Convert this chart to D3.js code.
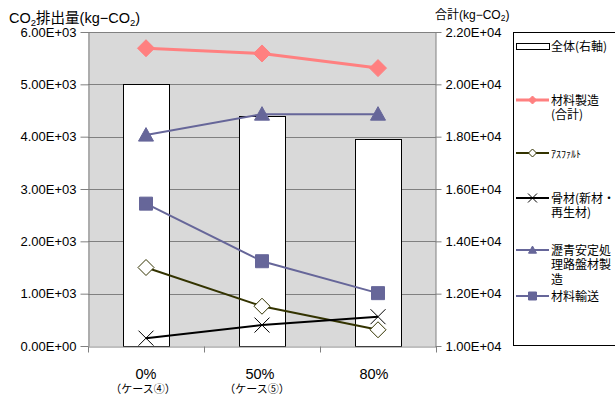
<!DOCTYPE html>
<html>
<head>
<meta charset="utf-8">
<script src="https://cdn.jsdelivr.net/npm/d3@7"></script>
<style>
  html, body { margin: 0; padding: 0; background: #fff; }
  svg { display: block; }
  .num { font-family: "Liberation Sans", Arial, sans-serif; }
  .jp { font-family: "Noto Sans CJK JP", sans-serif; }
</style>
</head>
<body>
<svg id="chart" width="615" height="396"></svg>
<script>
// Categories (recycled-material ratio) and their sub-labels
const categories = ["0%", "50%", "80%"];
const caseLabels = ["（ケース④）", "（ケース⑤）", ""];

// Total emissions, drawn as bars on the right axis (kg-CO2)
const totalValues = [20000, 18800, 17900];

// Line series on the left axis (kg-CO2)
const materialTotal = [5690, 5590, 5310];   // 材料製造(合計)
const asphalt = [1500, 760, 310];            // アスファルト
const aggregate = [150, 400, 560];           // 骨材(新材・再生材)
const bitumenBase = [4030, 4430, 4430];      // 瀝青安定処理路盤材製造
const transport = [2720, 1620, 1010];        // 材料輸送

const leftTicks = [0, 1000, 2000, 3000, 4000, 5000, 6000];
const rightTicks = [10000, 12000, 14000, 16000, 18000, 20000, 22000];

const series = [
  { name: ["材料製造", "(合計)"], values: materialTotal, color: "#ff8080", width: 3, marker: "diamond", fill: "#ff8080", size: 17 },
  { name: ["ｱｽﾌｧﾙﾄ"], values: asphalt, color: "#333300", width: 2, marker: "diamond", fill: "#fff", size: 16, half: true },
  { name: ["骨材(新材・", "再生材)"], values: aggregate, color: "#000000", width: 2, marker: "x", fill: "none", size: 15 },
  { name: ["瀝青安定処", "理路盤材製", "造"], values: bitumenBase, color: "#666699", width: 2, marker: "triangle", fill: "#666699", size: 15 },
  { name: ["材料輸送"], values: transport, color: "#666699", width: 2, marker: "square", fill: "#666699", size: 13 }
];

const svg = d3.select("#chart");
const plot = { left: 88, right: 436, top: 32, bottom: 346 };

const x = d3.scaleBand().domain(categories).range([plot.left, plot.right]).padding(0);
const xb = d3.scaleLinear().domain([0, categories.length]).range([plot.left, plot.right]);
const yL = d3.scaleLinear().domain([0, 6000]).range([plot.bottom, plot.top]);
const yR = d3.scaleLinear().domain([10000, 22000]).range([plot.bottom, plot.top]);

function fmtE(v) {
  if (v === 0) return "0.00E+00";
  const e = Math.floor(Math.log10(Math.abs(v)));
  const m = v / Math.pow(10, e);
  return m.toFixed(2) + "E" + (e >= 0 ? "+" : "-") + String(Math.abs(e)).padStart(2, "0");
}

// Plot background
svg.append("rect")
  .attr("x", plot.left).attr("y", plot.top)
  .attr("width", plot.right - plot.left).attr("height", plot.bottom - plot.top)
  .attr("fill", "#d9d9d9");

// Horizontal gridlines
svg.append("g").selectAll("line").data(leftTicks.slice(1)).join("line")
  .attr("x1", plot.left).attr("x2", plot.right)
  .attr("y1", d => Math.round(yL(d)) + 0.5).attr("y2", d => Math.round(yL(d)) + 0.5)
  .attr("stroke", "#808080").attr("stroke-width", 1);

// Bars: overall total (right axis)
const bw = x.bandwidth() * 0.4;
svg.append("g").selectAll("rect").data(categories).join("rect")
  .attr("x", (c) => Math.round(x(c) + (x.bandwidth() - bw) / 2) + 0.5)
  .attr("y", (c, i) => Math.round(yR(totalValues[i])) + 0.5)
  .attr("width", Math.round(bw))
  .attr("height", (c, i) => plot.bottom - Math.round(yR(totalValues[i])))
  .attr("fill", "#fff").attr("stroke", "#000").attr("stroke-width", 1);

// Axes
function styleAxis(g) {
  g.selectAll("path.domain").attr("stroke", "#808080");
  g.selectAll(".tick line").attr("stroke", "#808080");
  g.selectAll("text").attr("fill", "#000").attr("font-size", 13)
    .attr("font-family", "'Liberation Sans', Arial, sans-serif");
}

svg.append("g").attr("transform", `translate(${plot.left + 0.5},0)`)
  .call(d3.axisLeft(yL).tickValues(leftTicks).tickFormat(fmtE).tickSize(8).tickSizeOuter(0).tickPadding(4))
  .call(styleAxis);

svg.append("g").attr("transform", `translate(${plot.right - 0.5},0)`)
  .call(d3.axisRight(yR).tickValues(rightTicks).tickFormat(fmtE).tickSize(6).tickSizeOuter(0).tickPadding(4))
  .call(styleAxis);

svg.append("g").attr("transform", `translate(0,${plot.bottom + 0.5})`)
  .call(d3.axisBottom(xb).tickValues(d3.range(categories.length + 1)).tickFormat("").tickSize(6).tickSizeOuter(0))
  .call(styleAxis);

// Category labels
const cx = c => x(c) + x.bandwidth() / 2;
svg.append("g").selectAll("text").data(categories).join("text")
  .attr("class", "num")
  .attr("x", (c, i) => cx(c) - i * 2).attr("y", 379)
  .attr("text-anchor", "middle").attr("font-size", 14.5).attr("fill", "#000")
  .text(d => d);
svg.append("g").selectAll("text").data(categories).join("text")
  .attr("class", "jp")
  .attr("x", (c, i) => cx(c) - 3 - i * 2).attr("y", 393)
  .attr("text-anchor", "middle").attr("font-size", 11).attr("fill", "#000")
  .text((c, i) => caseLabels[i]);

// Marker shapes
function markerPath(type, s) {
  const h = s / 2;
  if (type === "diamond") return `M0,${-h}L${h},0L0,${h}L${-h},0Z`;
  if (type === "square") return `M${-h},${-h}H${h}V${h}H${-h}Z`;
  if (type === "triangle") return `M0,${-h}L${h},${h * 0.8}L${-h},${h * 0.8}Z`;
  if (type === "x") return `M${-h},${-h}L${h},${h}M${h},${-h}L${-h},${h}`;
  return "";
}

function drawMarker(g, s, px, py, size) {
  g.append("path")
    .attr("d", markerPath(s.marker, size))
    .attr("transform", `translate(${px},${py})`)
    .attr("fill", s.fill)
    .attr("stroke", s.marker === "x" ? "#000" : s.color)
    .attr("stroke-width", 1);
}

// Lines (left axis)
const line = d3.line().x((d, i) => cx(categories[i])).y(d => yL(d));
series.forEach(s => {
  svg.append("path").datum(s.values)
    .attr("d", line).attr("fill", "none")
    .attr("stroke", s.color).attr("stroke-width", s.width);
});
series.forEach(s => {
  const g = svg.append("g");
  s.values.forEach((v, i) => drawMarker(g, s, cx(categories[i]), yL(v), s.size));
});

// Axis titles
const t1 = svg.append("text").attr("x", 9).attr("y", 23)
  .attr("font-size", 14.5).attr("fill", "#000").attr("class", "jp");
t1.append("tspan").attr("class", "num").text("CO");
t1.append("tspan").attr("class", "num").attr("font-size", 9.5).attr("dy", 3).text("2");
t1.append("tspan").attr("dy", -3).text("排出量");
t1.append("tspan").attr("class", "num").text("(kg−CO");
t1.append("tspan").attr("class", "num").attr("font-size", 9.5).attr("dy", 3).text("2");
t1.append("tspan").attr("class", "num").attr("dy", -3).text(")");

const t2 = svg.append("text").attr("x", 435).attr("y", 19)
  .attr("font-size", 12).attr("fill", "#000").attr("class", "jp");
t2.append("tspan").text("合計");
t2.append("tspan").attr("class", "num").text("(kg−CO");
t2.append("tspan").attr("class", "num").attr("font-size", 8.5).attr("dy", 2).text("2");
t2.append("tspan").attr("class", "num").attr("dy", -2).text(")");

// Legend
const lg = svg.append("g");
lg.append("rect").attr("x", 513.5).attr("y", 32.5).attr("width", 120).attr("height", 313)
  .attr("fill", "#fff").attr("stroke", "#000").attr("stroke-width", 1);

const lx0 = 516, lx1 = 549, tx = 551;
lg.append("rect").attr("x", lx0 + 0.5).attr("y", 43.5).attr("width", lx1 - lx0).attr("height", 6)
  .attr("fill", "#fff").attr("stroke", "#000");
lg.append("text").attr("class", "jp").attr("x", tx).attr("y", 51)
  .attr("font-size", 12).attr("fill", "#000").text("全体(右軸)");

const legendY = [100, 153, 198, 250, 296];
series.forEach((s, i) => {
  const y0 = legendY[i];
  lg.append("line").attr("x1", lx0).attr("x2", lx1).attr("y1", y0).attr("y2", y0)
    .attr("stroke", s.color).attr("stroke-width", s.width);
  drawMarker(lg, s, (lx0 + lx1) / 2, y0, s.marker === "x" ? 9 : 8);
  s.name.forEach((t, j) => {
    lg.append("text").attr("class", "jp")
      .attr("x", tx).attr("y", y0 + 4.5 + j * 14.7)
      .attr("font-size", s.half ? 10 : 12).attr("fill", "#000").text(t);
  });
});
</script>
</body>
</html>
